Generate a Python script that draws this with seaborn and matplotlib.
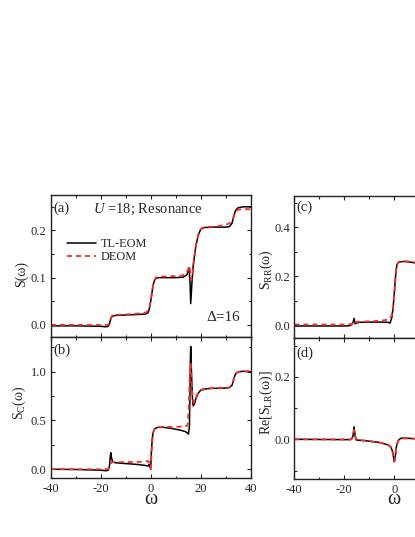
import matplotlib
matplotlib.use('Agg')
import matplotlib.pyplot as plt
from matplotlib.ticker import MultipleLocator, FuncFormatter
import seaborn as sns

# ---------------- data ----------------
# panel (a): S(omega)
w_a_tl = [-40, -30, -20, -18, -17, -16.5, -16, -15.5, -15, -14, -10, -5, -2, -1, -0.5, 0, 0.5, 1, 1.5, 2, 3, 5,
          10, 13, 14.5, 15.3, 15.7, 16, 16.5, 17, 18, 19, 20, 21, 25, 30, 31.5, 32.5, 33, 33.5, 34, 35, 37, 40]
s_a_tl = [-0.002, -0.002, -0.003, -0.004, -0.003, 0.002, 0.012, 0.018, 0.019, 0.02, 0.021, 0.022, 0.023, 0.026,
          0.035, 0.05, 0.068, 0.085, 0.094, 0.098, 0.1, 0.1, 0.1, 0.101, 0.106, 0.121, 0.095, 0.045, 0.09, 0.125,
          0.165, 0.19, 0.202, 0.206, 0.207, 0.207, 0.208, 0.215, 0.225, 0.235, 0.243, 0.248, 0.25, 0.25]
w_a_de = [-40, -20, -17, -16.5, -16, -15.5, -15, -10, -5, -2, -1, -0.5, 0, 0.5, 1, 1.5, 2, 3, 8, 12, 14, 15,
          15.5, 16.2, 16.7, 17.2, 18, 19, 20, 22, 25, 28, 30, 31.5, 32.5, 33, 33.5, 34, 35, 37, 40]
s_a_de = [0.0, 0.0, 0.0, 0.004, 0.013, 0.019, 0.021, 0.022, 0.024, 0.026, 0.03, 0.038, 0.052, 0.07, 0.086,
          0.095, 0.1, 0.102, 0.103, 0.104, 0.107, 0.118, 0.125, 0.095, 0.105, 0.135, 0.167, 0.19, 0.203, 0.207,
          0.208, 0.21, 0.212, 0.215, 0.22, 0.227, 0.234, 0.24, 0.244, 0.245, 0.245]

# panel (b): S_C(omega)
w_b_tl = [-40, -30, -20, -18, -17, -16.5, -16.2, -16, -15.7, -15.3, -15, -14, -10, -5, -2, -1, -0.6, 0, 0.3,
          0.7, 1, 1.5, 2, 3, 5, 8, 12, 14, 15.1, 15.5, 15.7, 15.85, 16, 16.3, 16.7, 17, 17.5, 18, 19, 20, 22,
          25, 30, 31.5, 32.5, 33, 33.5, 34, 35, 37, 40]
s_b_tl = [0.0, -0.003, -0.01, -0.015, -0.012, 0.03, 0.12, 0.17, 0.12, 0.08, 0.072, 0.066, 0.058, 0.048, 0.038,
          0.032, 0.05, 0.0, 0.2, 0.33, 0.38, 0.41, 0.422, 0.43, 0.43, 0.42, 0.4, 0.385, 0.36, 0.45, 0.8, 1.1,
          1.26, 1.0, 0.72, 0.65, 0.67, 0.72, 0.78, 0.81, 0.825, 0.83, 0.833, 0.838, 0.86, 0.9, 0.95, 0.98, 1.0,
          1.005, 1.0]
w_b_de = [-40, -20, -17, -16.5, -16, -15.5, -15, -10, -5, -2, -1, -0.5, 0, 0.3, 0.7, 1, 1.5, 2, 3, 5, 10, 13,
          14, 14.7, 15.2, 15.6, 16, 16.4, 16.8, 17.2, 17.7, 18.2, 19, 20, 22, 25, 30, 31.5, 32.5, 33, 33.5, 34,
          35, 37, 40]
s_b_de = [0.0, 0.0, 0.002, 0.02, 0.06, 0.072, 0.073, 0.073, 0.075, 0.08, 0.085, 0.06, 0.01, 0.15, 0.3, 0.37,
          0.41, 0.425, 0.43, 0.435, 0.435, 0.438, 0.44, 0.45, 0.6, 0.95, 1.08, 0.9, 0.72, 0.68, 0.7, 0.74, 0.79,
          0.815, 0.83, 0.833, 0.835, 0.84, 0.87, 0.91, 0.95, 0.98, 1.0, 1.005, 1.005]

# panel (c): S_RR(omega)
w_c_tl = [-40, -30, -20, -18, -17, -16.5, -16.1, -15.7, -15, -14, -10, -5, -2.5, -1.7, -1, -0.5, 0, 0.5, 1,
          1.5, 2.5, 4, 6, 8, 10]
s_c_tl = [-0.004, -0.004, -0.004, -0.003, 0.002, 0.012, 0.027, 0.005, 0.008, 0.011, 0.012, 0.012, 0.011,
          0.008, 0.03, 0.07, 0.13, 0.2, 0.245, 0.255, 0.259, 0.26, 0.258, 0.255, 0.25]
w_c_de = [-40, -20, -17, -16.5, -16, -15.5, -15, -10, -5, -2, -1, -0.5, 0, 0.5, 1, 1.5, 2.5, 4, 6, 8, 10]
s_c_de = [0.002, 0.002, 0.004, 0.01, 0.018, 0.012, 0.013, 0.015, 0.018, 0.023, 0.04, 0.07, 0.13, 0.2, 0.245,
          0.256, 0.262, 0.262, 0.26, 0.257, 0.252]

# panel (d): Re[S_LR(omega)]
w_d_tl = [-40, -20, -17.5, -17, -16.5, -16.1, -15.7, -15.2, -14, -12, -6, -2.5, -1.5, -0.8, -0.3, 0, 0.3, 0.8,
          1.5, 2.5, 4, 6, 8, 10]
s_d_tl = [0.0, -0.001, -0.001, 0.002, 0.012, 0.04, 0.012, -0.002, -0.003, -0.004, -0.01, -0.018, -0.024,
          -0.036, -0.058, -0.072, -0.06, -0.025, -0.004, 0.003, 0.004, 0.003, 0.002, 0.001]
w_d_de = [-40, -20, -17.5, -17, -16.5, -16.1, -15.7, -15.2, -14, -12, -6, -2.5, -1.5, -0.8, -0.3, 0, 0.3, 0.8,
          1.5, 2.5, 4, 6, 8, 10]
s_d_de = [0.0, 0.0, 0.0, 0.002, 0.01, 0.03, 0.01, -0.001, -0.003, -0.004, -0.01, -0.017, -0.023, -0.035,
          -0.056, -0.07, -0.058, -0.025, -0.005, 0.002, 0.003, 0.003, 0.002, 0.001]

series_labels = ['TL-EOM', 'DEOM']
panel_tags = ['(a)', '(b)', '(c)', '(d)']
y_labels = ['S(ω)', 'S$_\\mathrm{C}$(ω)', 'S$_\\mathrm{RR}$(ω)', 'Re[S$_\\mathrm{LR}$(ω)]']
x_label = 'ω'
title_text = '$U$ =18; Resonance'
delta_text = 'Δ=16'

# ---------------- style ----------------
sns.set_style('ticks')
plt.rcParams['font.family'] = ['Liberation Serif', 'DejaVu Serif']
plt.rcParams['mathtext.fontset'] = 'custom'
plt.rcParams['mathtext.rm'] = 'Liberation Serif'
plt.rcParams['mathtext.it'] = 'Liberation Serif:italic'
plt.rcParams['mathtext.bf'] = 'Liberation Serif:bold'
plt.rcParams['axes.unicode_minus'] = False
plt.rcParams['axes.linewidth'] = 1.0
plt.rcParams['axes.edgecolor'] = '#222222'

fig = plt.figure(figsize=(4.15, 5.37), dpi=100)
ax_a = fig.add_axes([0.1222, 0.373, 0.4819, 0.2639])
ax_b = fig.add_axes([0.1222, 0.1099, 0.4819, 0.2631])
ax_c = fig.add_axes([0.7092, 0.3711, 0.4819, 0.2639])
ax_d = fig.add_axes([0.7092, 0.1074, 0.4819, 0.2637])


def draw(ax, w1, s1, w2, s2, lab=False):
    sns.lineplot(x=w1, y=s1, ax=ax, color='black', lw=1.1, estimator=None, sort=False,
                 label=series_labels[0] if lab else None, legend=False)
    sns.lineplot(x=w2, y=s2, ax=ax, color='#ff2a2a', lw=1.3, linestyle=(0, (2.8, 2.2)), estimator=None,
                 sort=False, label=series_labels[1] if lab else None, legend=False)


draw(ax_a, w_a_tl, s_a_tl, w_a_de, s_a_de, lab=True)
draw(ax_b, w_b_tl, s_b_tl, w_b_de, s_b_de)
draw(ax_c, w_c_tl, s_c_tl, w_c_de, s_c_de)
draw(ax_d, w_d_tl, s_d_tl, w_d_de, s_d_de)

ylims = [(-0.025, 0.275), (-0.09, 1.36), (-0.052, 0.528), (-0.128, 0.325)]
ymaj = [0.1, 0.5, 0.2, 0.2]
ymin = [0.05, 0.25, 0.1, 0.1]
ylab_pos = [(-0.112, 0.44), (-0.112, 0.53), (-0.095, 0.478), (-0.095, 0.542)]
tag_pos = [(0.012, 0.908), (0.012, 0.906), (0.008, 0.924), (0.008, 0.89)]
xlab_y = [None, -0.186, None, -0.177]
# right-hand panels are cropped by the figure edge: labels past it are not shown
x_label_max = [40, 40, 5, 5]

for i, ax in enumerate([ax_a, ax_b, ax_c, ax_d]):
    ax.set_xlim(-40, 40)
    ax.set_ylim(*ylims[i])
    ax.xaxis.set_major_locator(MultipleLocator(20))
    ax.xaxis.set_minor_locator(MultipleLocator(10))
    lim = x_label_max[i]
    ax.xaxis.set_major_formatter(FuncFormatter(lambda v, p, lim=lim: f'{v:.0f}' if v <= lim else ''))
    ax.yaxis.set_major_locator(MultipleLocator(ymaj[i]))
    ax.yaxis.set_minor_locator(MultipleLocator(ymin[i]))
    ax.yaxis.set_major_formatter(matplotlib.ticker.FormatStrFormatter('%.1f'))
    ax.tick_params(which='both', direction='in', top=True, right=True, labelsize=9, width=0.8,
                   color='#222222')
    ax.tick_params(axis='x', pad=3.5)
    ax.tick_params(axis='y', pad=3.0)
    ax.tick_params(which='major', length=3.2)
    ax.tick_params(which='minor', length=1.8)
    ax.set_ylabel(y_labels[i], fontsize=10)
    ax.yaxis.set_label_coords(*ylab_pos[i])
    ax.text(tag_pos[i][0], tag_pos[i][1], panel_tags[i], transform=ax.transAxes, fontsize=10.5,
            ha='left', va='center')
    if xlab_y[i] is None:
        ax.tick_params(labelbottom=False)
        ax.set_xlabel('')
    else:
        ax.set_xlabel(x_label, fontsize=14.5)
        ax.xaxis.label.set_va('baseline')
        ax.xaxis.set_label_coords(0.5, xlab_y[i])

ax_a.text(0.484, 0.897, title_text, transform=ax_a.transAxes, fontsize=10.5, ha='center', va='center')
ax_a.text(0.864, 0.139, delta_text, transform=ax_a.transAxes, fontsize=11, ha='center', va='center')
ax_a.legend(loc='upper left', bbox_to_anchor=(0.08, 0.695), frameon=False, fontsize=8.8, handlelength=2.4,
            handletextpad=0.35, labelspacing=0.1, borderpad=0, borderaxespad=0)

fig.savefig('out.png', dpi=100)
